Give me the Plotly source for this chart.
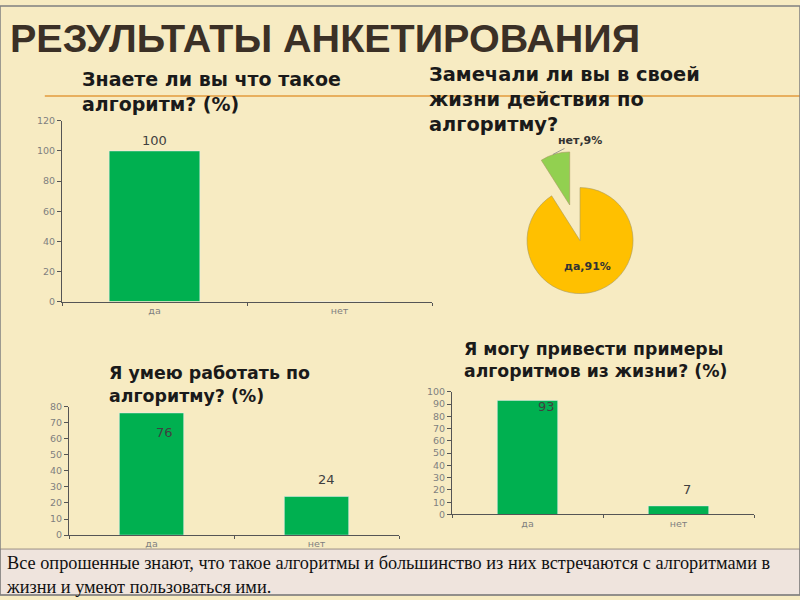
import plotly.graph_objects as go

# Данные анкеты
categories = ["да", "нет"]

q1_title = "Знаете ли вы что такое<br>алгоритм? (%)"
q1_values = [100, 0]

q2_title = "Замечали ли вы в своей<br>жизни действия по<br>алгоритму?"
q2_values = [91, 9]

q3_title = "Я умею работать по<br>алгоритму? (%)"
q3_values = [76, 24]

q4_title = "Я могу привести примеры<br>алгоритмов из жизни? (%)"
q4_values = [93, 7]

slide_title = "РЕЗУЛЬТАТЫ АНКЕТИРОВАНИЯ"
summary_lines = [
    "Все опрошенные знают, что такое алгоритмы и большинство из них встречаются с алгоритмами в",
    "жизни и умеют пользоваться ими.",
]

BAR_GREEN = "#00b050"
TICK_GREY = "#7f7f7f"
AXIS_GREY = "#555555"
TITLE_FONT = dict(family="DejaVu Sans", size=19, color="#1a1a1a", weight="bold")
LABEL_FONT = dict(family="DejaVu Sans", size=11, color="#333333", weight="bold")

fig = go.Figure()

# Столбчатые диаграммы
fig.add_bar(x=categories, y=q1_values, width=0.49, marker_color=BAR_GREEN,
            xaxis="x", yaxis="y")
fig.add_bar(x=categories, y=q3_values, width=0.39, marker_color=BAR_GREEN,
            xaxis="x2", yaxis="y2")
fig.add_bar(x=categories, y=q4_values, width=0.40, marker_color=BAR_GREEN,
            xaxis="x3", yaxis="y3")

# Круговая диаграмма
fig.add_pie(
    labels=categories,
    values=q2_values,
    sort=False,
    direction="clockwise",
    rotation=0,
    pull=[0, 0.7],
    marker=dict(colors=["#ffc000", "#92d050"], line=dict(color="#a89a60", width=0.6)),
    texttemplate=["%{label},%{percent}", ""],
    textposition="inside",
    insidetextorientation="horizontal",
    textfont=LABEL_FONT,
    domain=dict(x=[0.6103, 0.8398], y=[0.4487, 0.7547]),
    showlegend=False,
)

# подпись маленького сектора вынесена с выноской, как в оригинале
share_no = round(100 * q2_values[1] / sum(q2_values))
fig.add_annotation(x=0.6912, y=0.748, xref="paper", yref="paper",
                   text=f"{categories[1]},{share_no}%", showarrow=True,
                   arrowhead=0, arrowcolor="#888888", arrowwidth=0.8,
                   ax=27, ay=-14, standoff=0,
                   font=LABEL_FONT)

axis_common = dict(
    showgrid=False, zeroline=False, showline=True, linecolor=AXIS_GREY,
    linewidth=1, ticks="outside", ticklen=4, tickcolor=AXIS_GREY,
    tickfont=dict(family="DejaVu Sans", size=9.5, color=TICK_GREY),
)
cat_axis = dict(axis_common, type="category", tickson="boundaries", ticklen=3)

fig.update_layout(
    xaxis=dict(cat_axis, domain=[0.0775, 0.54], anchor="y"),
    yaxis=dict(axis_common, domain=[0.4983, 0.805], range=[0, 120], dtick=20, anchor="x"),
    xaxis2=dict(cat_axis, domain=[0.08625, 0.49875], anchor="y2"),
    yaxis2=dict(axis_common, domain=[0.1017, 0.32], range=[0, 80], dtick=10, anchor="x2"),
    xaxis3=dict(cat_axis, domain=[0.565, 0.9425], anchor="y3"),
    yaxis3=dict(axis_common, domain=[0.1367, 0.345], range=[0, 100], dtick=10, anchor="x3"),
    showlegend=False,
    width=800,
    height=600,
    margin=dict(l=0, r=0, t=0, b=0),
    paper_bgcolor="#f7ebc2",
    plot_bgcolor="rgba(0,0,0,0)",
)

# Подписи значений столбцов
value_font = dict(family="DejaVu Sans", size=13, color="#404040")
label_specs = [
    ("x", "y", q1_values, [(0, 10), None]),
    ("x2", "y2", q3_values, [(13, -20), (10, 17)]),
    ("x3", "y3", q4_values, [(19, -6), (8, 16)]),
]
for xr, yr, vals, offsets in label_specs:
    for cat, val, off in zip(categories, vals, offsets):
        if off is None:
            continue
        fig.add_annotation(x=cat, y=val, xref=xr, yref=yr, text=str(val),
                           showarrow=False, xshift=off[0], yshift=off[1],
                           font=value_font)

# Заголовки диаграмм
for text, x, y, size in [(q1_title, 0.1, 0.854, 19), (q2_title, 0.534, 0.841, 19.4),
                         (q3_title, 0.134, 0.357, 17.4), (q4_title, 0.577, 0.399, 17.3)]:
    fig.add_annotation(x=x, y=y, xref="paper", yref="paper", text=text,
                       showarrow=False, xanchor="left", yanchor="middle",
                       align="left", font=dict(TITLE_FONT, size=size))

# Заголовок слайда
fig.add_annotation(x=0.01, y=0.945, xref="paper", yref="paper",
                   text=slide_title, showarrow=False, xanchor="left",
                   yanchor="middle",
                   font=dict(family="Liberation Sans", size=39.5, color="#3b3026",
                             weight="bold"))

# Оранжевая линия и нижняя плашка
fig.add_shape(type="line", xref="paper", yref="paper", x0=0.056, x1=1,
              y0=0.847, y1=0.847, line=dict(color="#e39b3c", width=1.5),
              layer="below")
fig.add_shape(type="rect", xref="paper", yref="paper", x0=0, x1=1,
              y0=0, y1=0.078, fillcolor="#efe4dd",
              line=dict(color="#9a8f86", width=1), layer="above")
fig.add_shape(type="rect", xref="paper", yref="paper", x0=0, x1=1,
              y0=0, y1=1, line=dict(color="#808080", width=1.5))

fig.add_annotation(x=0.005, y=0.034, xref="paper", yref="paper",
                   text="<br>".join(summary_lines), showarrow=False,
                   xanchor="left", yanchor="middle", align="left",
                   font=dict(family="Liberation Serif", size=18.3, color="#111111"))

fig.write_html("out.html", config={"displayModeBar": False},
               post_script="document.body.style.margin='0';")
